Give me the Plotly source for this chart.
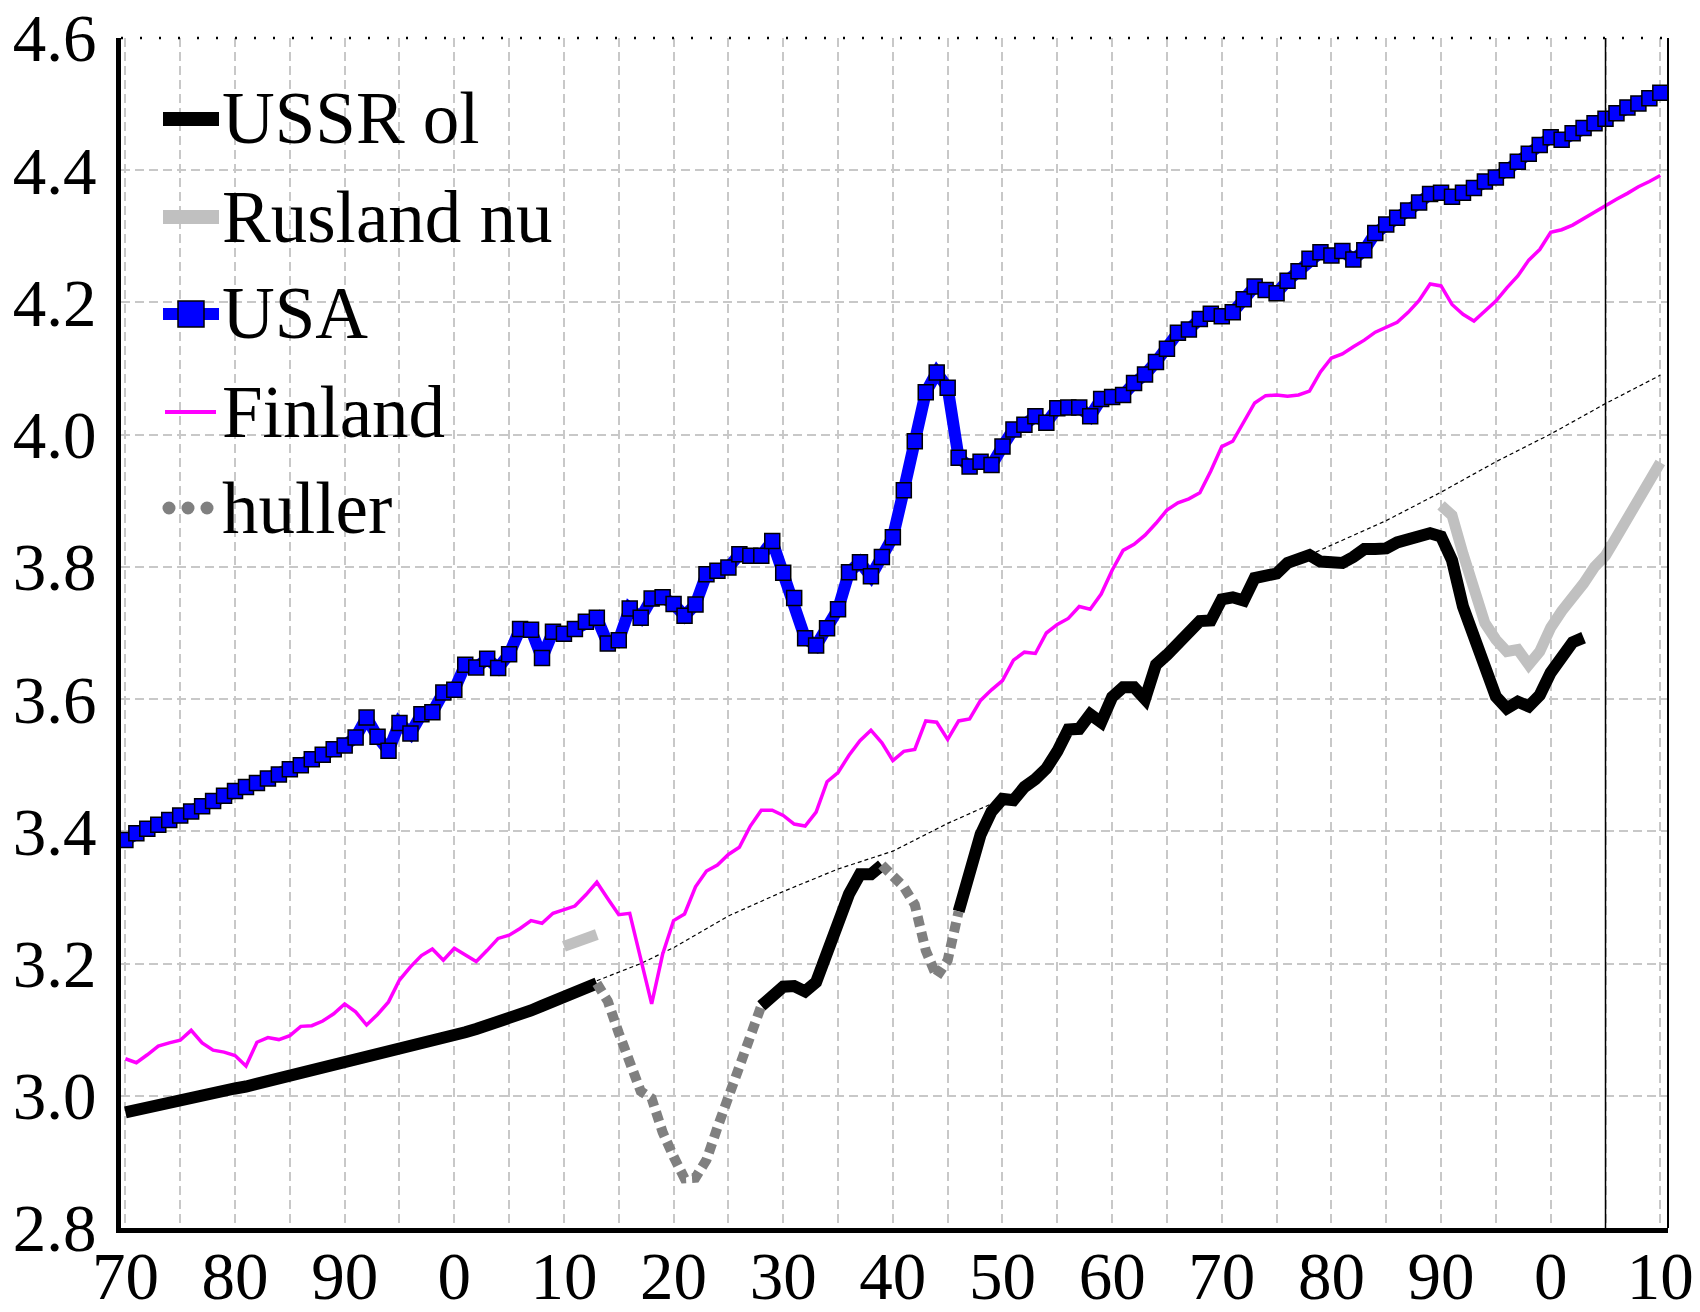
import plotly.graph_objects as go

# ---------------- data (log10 of GDP per capita) ----------------
years = list(range(1870, 2011))

ussr_a_start = 1870
ussr_a = [2.975, 2.979, 2.983, 2.986, 2.989, 2.992, 2.995, 2.999, 3.003, 3.007,
          3.011, 3.014, 3.018, 3.021, 3.025, 3.028, 3.032, 3.036, 3.040, 3.044,
          3.048, 3.052, 3.056, 3.060, 3.064, 3.068, 3.073, 3.077, 3.082, 3.086,
          3.091, 3.096, 3.101, 3.106, 3.111, 3.116, 3.122, 3.129, 3.136, 3.142,
          3.149, 3.156, 3.163, 3.170]
ussr_b_start = 1928
ussr_b = [3.136, 3.148, 3.165, 3.166, 3.158, 3.172, 3.214, 3.268, 3.305, 3.335, 3.335, 3.349]
ussr_c_start = 1946
ussr_c = [3.279, 3.345, 3.395, 3.430, 3.449, 3.447, 3.467, 3.479, 3.495, 3.521,
          3.554, 3.555, 3.577, 3.565, 3.603, 3.618, 3.618, 3.600, 3.652, 3.667,
          3.682, 3.700, 3.718, 3.719, 3.751, 3.754, 3.749, 3.783, 3.788, 3.790,
          3.806, 3.814, 3.818, 3.808, 3.805, 3.806, 3.815, 3.827, 3.827, 3.828,
          3.837, 3.841, 3.845, 3.851, 3.846, 3.810, 3.740, 3.690, 3.640, 3.604,
          3.586, 3.596, 3.589, 3.606, 3.640, 3.664, 3.686, 3.693]

rus_a_start = 1910
rus_a = [3.226, 3.232, 3.238, 3.244]
rus_b_start = 1990
rus_b = [3.893, 3.878, 3.820, 3.768, 3.715, 3.690, 3.672, 3.675, 3.652, 3.672,
         3.708, 3.733, 3.752, 3.775, 3.800, 3.817, 3.845, 3.872, 3.900, 3.930, 3.958]

huller_a_start = 1913
huller_a = [3.170, 3.143, 3.095, 3.050, 3.007, 2.996, 2.945, 2.908, 2.875, 2.876,
            2.903, 2.952, 2.999, 3.045, 3.100, 3.136]
huller_b_start = 1939
huller_b = [3.349, 3.333, 3.316, 3.289, 3.220, 3.180, 3.205, 3.279]

usa = [3.387, 3.397, 3.404, 3.410, 3.417, 3.424, 3.430, 3.438, 3.446, 3.454,
       3.461, 3.467, 3.473, 3.480, 3.486, 3.494, 3.500, 3.509, 3.516, 3.524,
       3.530, 3.542, 3.572, 3.543, 3.522, 3.564, 3.548, 3.577, 3.580, 3.610,
       3.614, 3.652, 3.648, 3.661, 3.647, 3.668, 3.706, 3.705, 3.662, 3.702,
       3.699, 3.706, 3.717, 3.723, 3.684, 3.689, 3.737, 3.723, 3.752, 3.754,
       3.744, 3.726, 3.743, 3.789, 3.794, 3.799, 3.819, 3.817, 3.817, 3.839,
       3.791, 3.753, 3.692, 3.681, 3.707, 3.736, 3.792, 3.807, 3.786, 3.815,
       3.845, 3.916, 3.990, 4.064, 4.094, 4.071, 3.965, 3.952, 3.959, 3.954,
       3.982, 4.008, 4.015, 4.028, 4.018, 4.040, 4.041, 4.041, 4.028, 4.054,
       4.057, 4.060, 4.078, 4.091, 4.110, 4.130, 4.154, 4.159, 4.175, 4.183,
       4.179, 4.185, 4.205, 4.224, 4.219, 4.214, 4.233, 4.247, 4.266, 4.276,
       4.271, 4.278, 4.265, 4.279, 4.305, 4.318, 4.328, 4.339, 4.351, 4.364,
       4.366, 4.360, 4.366, 4.373, 4.383, 4.389, 4.400, 4.413, 4.425, 4.438,
       4.450, 4.446, 4.456, 4.464, 4.471, 4.478, 4.486, 4.495, 4.501, 4.509, 4.517]

finland = [3.056, 3.050, 3.062, 3.075, 3.080, 3.084, 3.099, 3.080, 3.069, 3.066,
           3.061, 3.045, 3.081, 3.088, 3.085, 3.091, 3.105, 3.106, 3.113, 3.124,
           3.139, 3.127, 3.107, 3.123, 3.142, 3.175, 3.195, 3.212, 3.222, 3.205,
           3.223, 3.213, 3.203, 3.220, 3.238, 3.243, 3.253, 3.265, 3.261, 3.276,
           3.281, 3.287, 3.304, 3.323, 3.298, 3.274, 3.276, 3.209, 3.139, 3.214,
           3.265, 3.275, 3.316, 3.340, 3.349, 3.365, 3.376, 3.408, 3.432, 3.432,
           3.424, 3.411, 3.408, 3.429, 3.475, 3.489, 3.515, 3.537, 3.553, 3.534,
           3.507, 3.521, 3.524, 3.567, 3.565, 3.539, 3.567, 3.570, 3.598, 3.614,
           3.628, 3.659, 3.671, 3.669, 3.700, 3.713, 3.722, 3.740, 3.736, 3.759,
           3.795, 3.825, 3.834, 3.848, 3.866, 3.886, 3.897, 3.903, 3.912, 3.945,
           3.982, 3.990, 4.020, 4.048, 4.059, 4.060, 4.058, 4.060, 4.066, 4.095,
           4.116, 4.122, 4.133, 4.143, 4.155, 4.163, 4.170, 4.185, 4.203, 4.228,
           4.225, 4.197, 4.182, 4.172, 4.187, 4.202, 4.222, 4.240, 4.264, 4.280,
           4.306, 4.310, 4.317, 4.327, 4.337, 4.346, 4.356, 4.365, 4.375, 4.383, 4.392]

trend_years = [1913, 1917, 1920, 1925, 1930, 1935, 1940, 1945, 1950, None,
               1978, 1985, 1990, 1995, 2000, 2005, 2010]
trend_values = [3.174, 3.200, 3.224, 3.272, 3.309, 3.343, 3.370, 3.412, 3.449, None,
                3.818, 3.870, 3.913, 3.959, 4.001, 4.047, 4.090]

marker_year = 2005

legend_labels = ["USSR ol", "Rusland nu", "USA", "Finland", "huller"]

x_tickvals = list(range(1870, 2011, 5))
x_ticktext = ["70", "", "80", "", "90", "", "0", "", "10", "", "20", "", "30", "",
              "40", "", "50", "", "60", "", "70", "", "80", "", "90", "", "0", "", "10"]
y_tickvals = [2.8, 3.0, 3.2, 3.4, 3.6, 3.8, 4.0, 4.2, 4.4, 4.6]
y_ticktext = ["2.8", "3.0", "3.2", "3.4", "3.6", "3.8", "4.0", "4.2", "4.4", "4.6"]


# ---------------- helpers ----------------
def segments(parts):
    xs, ys = [], []
    for start, vals in parts:
        if xs:
            xs.append(None)
            ys.append(None)
        xs.extend(range(start, start + len(vals)))
        ys.extend(vals)
    return xs, ys


ussr_x, ussr_y = segments([(ussr_a_start, ussr_a), (ussr_b_start, ussr_b), (ussr_c_start, ussr_c)])
rus_x, rus_y = segments([(rus_a_start, rus_a), (rus_b_start, rus_b)])
hul_x, hul_y = segments([(huller_a_start, huller_a), (huller_b_start, huller_b)])

FONT = "Liberation Serif"
W, H = 1700, 1312
ML, MR, MT, MB = 121, 32, 38, 84
PW, PH = W - ML - MR, H - MT - MB

C_USSR, C_RUS, C_USA, C_FIN, C_HUL = "black", "#C0C0C0", "#0000FF", "#FF00FF", "#808080"


def px(xp):  # page pixel -> paper x
    return (xp - ML) / PW


def py(yp):  # page pixel -> paper y
    return (H - MB - yp) / PH


fig = go.Figure()

fig.add_trace(go.Scatter(x=trend_years, y=trend_values, mode="lines", showlegend=False,
                         line=dict(color="black", width=1.2, dash="4px,3px"), hoverinfo="skip"))
fig.add_trace(go.Scatter(x=ussr_x, y=ussr_y, mode="lines", name=legend_labels[0],
                         line=dict(color=C_USSR, width=12)))
fig.add_trace(go.Scatter(x=rus_x, y=rus_y, mode="lines", name=legend_labels[1],
                         line=dict(color=C_RUS, width=11)))
fig.add_trace(go.Scatter(x=years, y=finland, mode="lines", name=legend_labels[3],
                         line=dict(color=C_FIN, width=3.5)))
fig.add_trace(go.Scatter(x=years, y=usa, mode="lines+markers", name=legend_labels[2],
                         line=dict(color=C_USA, width=12),
                         marker=dict(symbol="square", size=15, color=C_USA,
                                     line=dict(color="black", width=1.5))))
fig.add_trace(go.Scatter(x=hul_x, y=hul_y, mode="lines", name=legend_labels[4],
                         line=dict(color=C_HUL, width=10, dash="10px,6px")))

X0, X1 = 1869.6, 2010.7

# ---------------- legend drawn as shapes + text (chunky symbols as in the original) ----------------
row_y = [119, 217, 314, 412, 508]
sym_x0, sym_x1 = 163, 219
text_x = 220

shapes = [
    dict(type="line", xref="x", yref="paper", x0=marker_year, x1=marker_year, y0=0, y1=1,
         line=dict(color="black", width=1.5)),
    dict(type="line", xref="paper", yref="paper", x0=1, x1=1, y0=0, y1=1,
         line=dict(color="black", width=2)),
    dict(type="line", xref="paper", yref="paper", x0=0, x1=1, y0=1, y1=1,
         line=dict(color="black", width=2.5, dash="2px,17px")),
]
annotations = []

# USSR ol
shapes.append(dict(type="line", xref="paper", yref="paper", x0=px(sym_x0), x1=px(sym_x1),
                   y0=py(row_y[0]), y1=py(row_y[0]), line=dict(color=C_USSR, width=14)))
# Rusland nu
shapes.append(dict(type="line", xref="paper", yref="paper", x0=px(sym_x0), x1=px(sym_x1),
                   y0=py(row_y[1]), y1=py(row_y[1]), line=dict(color=C_RUS, width=14)))
# USA: thick blue line plus a square marker
shapes.append(dict(type="line", xref="paper", yref="paper", x0=px(sym_x0), x1=px(sym_x1),
                   y0=py(row_y[2]), y1=py(row_y[2]), line=dict(color=C_USA, width=12)))
shapes.append(dict(type="rect", xref="paper", yref="paper", x0=px(178), x1=px(204),
                   y0=py(row_y[2] + 13), y1=py(row_y[2] - 13), fillcolor=C_USA,
                   line=dict(color="black", width=1.5)))
# Finland
shapes.append(dict(type="line", xref="paper", yref="paper", x0=px(165), x1=px(216),
                   y0=py(row_y[3]), y1=py(row_y[3]), line=dict(color=C_FIN, width=4)))
# huller: three round dots
for cx in (169, 188, 207):
    shapes.append(dict(type="circle", xref="paper", yref="paper", x0=px(cx - 6.5), x1=px(cx + 6.5),
                       y0=py(row_y[4] + 6.5), y1=py(row_y[4] - 6.5), fillcolor=C_HUL,
                       line=dict(width=0)))

for label, ry in zip(legend_labels, row_y):
    annotations.append(dict(text=label, xref="paper", yref="paper", x=px(text_x), y=py(ry),
                            xanchor="left", yanchor="middle", showarrow=False,
                            font=dict(family=FONT, size=73, color="black")))

fig.update_layout(
    width=W, height=H,
    margin=dict(l=ML, r=MR, t=MT, b=MB, autoexpand=False),
    paper_bgcolor="white", plot_bgcolor="white",
    font=dict(family=FONT, color="black"),
    showlegend=False,
    xaxis=dict(range=[X0, X1], tickvals=x_tickvals, ticktext=x_ticktext,
               showgrid=True, gridcolor="#C8C8C8", gridwidth=1.5, griddash="9px,5px",
               showline=True, linecolor="black", linewidth=5, zeroline=False,
               ticks="", ticklabelstandoff=-14, ticklabeloverflow="allow",
               tickfont=dict(family=FONT, size=67, color="black")),
    yaxis=dict(range=[2.8, 4.6], tickvals=y_tickvals, ticktext=y_ticktext,
               showgrid=True, gridcolor="#C8C8C8", gridwidth=1.5, griddash="9px,5px",
               showline=True, linecolor="black", linewidth=5, zeroline=False,
               ticks="", ticklabelstandoff=6, ticklabeloverflow="allow",
               tickfont=dict(family=FONT, size=67, color="black")),
    shapes=shapes,
    annotations=annotations,
)

# remove the browser's default 8px page margin so the figure fills the window exactly
fig.write_html("out.html", config={"displayModeBar": False},
               post_script="document.body.style.margin='0';")
